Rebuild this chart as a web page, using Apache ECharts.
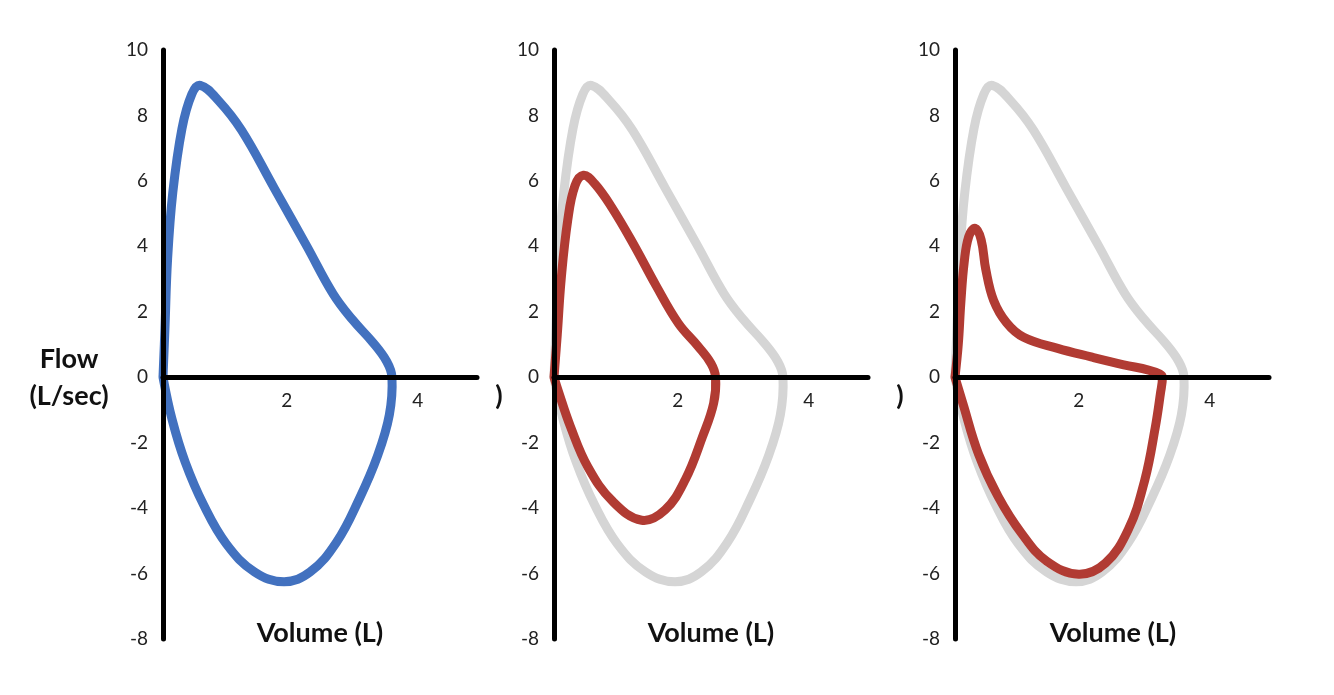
<!DOCTYPE html>
<html>
<head>
<meta charset="utf-8">
<script src="https://cdn.jsdelivr.net/npm/echarts@6/dist/echarts.min.js"></script>
<style>
html,body{margin:0;padding:0;background:#fff;}
#chart{width:1334px;height:695px;}
</style>
</head>
<body>
<div id="chart"></div>
<script>
// Flow (L/sec) vs Volume (L) loops
const yTicks = { min: -8, max: 10, interval: 2 };
const xTicks = { min: 0, max: 4.8, interval: 2 };

// Normal loop (panel 1 blue, grey reference in panels 2 & 3)
const normalLoop = [
  [0,0],[0.03,1.5],[0.07,3.6],[0.15,5.65],[0.29,7.6],[0.44,8.65],[0.57,8.92],
  [0.85,8.45],[1.2,7.55],[1.7,5.78],[2.2,4.0],[2.6,2.55],[2.9,1.75],[3.2,1.08],[3.42,0.48],[3.5,0],
  [3.46,-1.15],[3.28,-2.4],[3.0,-3.72],[2.65,-5.05],[2.25,-5.95],[1.85,-6.25],[1.4,-5.95],
  [0.97,-5.1],[0.62,-3.9],[0.34,-2.6],[0.14,-1.3],[0,0]
];

// Panel 2 red loop
const restrictiveLoop = [
  [0,0],[0.05,1.3],[0.11,3.0],[0.21,4.8],[0.32,5.85],[0.45,6.17],[0.62,5.92],[0.88,5.2],
  [1.22,4.05],[1.56,2.8],[1.9,1.65],[2.2,0.95],[2.4,0.42],[2.47,0],
  [2.44,-0.8],[2.27,-1.82],[2.01,-3.12],[1.7,-4.05],[1.34,-4.37],[0.9,-3.8],[0.52,-2.75],[0.25,-1.5],[0.07,-0.45],[0,0]
];

// Panel 3 red loop
const obstructiveLoop = [
  [0,0],[0.05,1.0],[0.09,2.3],[0.14,3.5],[0.21,4.3],[0.31,4.55],[0.4,4.2],[0.47,3.3],[0.59,2.35],
  [0.79,1.66],[1.05,1.22],[1.57,0.88],[2.08,0.62],[2.58,0.38],[2.96,0.22],[3.13,0.1],[3.17,0],
  [3.14,-0.5],[3.06,-1.55],[2.9,-3.15],[2.65,-4.65],[2.3,-5.68],[1.89,-6.02],[1.4,-5.62],[1.02,-4.78],
  [0.66,-3.65],[0.36,-2.35],[0.12,-0.8],[0,0]
];

const xAxisTitle = 'Volume (L)';
const yAxisTitle = 'Flow\n(L/sec)';

const BLUE = '#4271BF', RED = '#B13B33', GREY = '#D5D5D5';
const panelLefts = [163, 554, 955];
const FONT = 'Lato, "Open Sans", sans-serif';
const GRID_H = 589;
const zeroFromBottom = GRID_H * (0 - yTicks.min) / (yTicks.max - yTicks.min);

const grids = panelLefts.map(l => ({ left: l, top: 50, width: 314, height: GRID_H }));
const xAxes = panelLefts.map((l, i) => ({
  type: 'value', gridIndex: i, min: xTicks.min, max: xTicks.max, interval: xTicks.interval,
  position: 'bottom', offset: -zeroFromBottom, z: 10,
  axisLine: { onZero: false, lineStyle: { color: '#000', width: 5 } },
  axisTick: { show: false }, splitLine: { show: false },
  axisLabel: { margin: 14, fontSize: 19, color: '#222', fontFamily: FONT, padding: [0, 14, 0, 0],
    showMaxLabel: false, formatter: v => (v === 0 ? '' : String(v)) }
}));
const yAxes = panelLefts.map((l, i) => ({
  type: 'value', gridIndex: i, min: yTicks.min, max: yTicks.max, interval: yTicks.interval,
  z: 10,
  axisLine: { show: true, onZero: false, lineStyle: { color: '#000', width: 5 } },
  axisTick: { show: false }, splitLine: { show: false },
  axisLabel: { margin: 15, fontSize: 19, color: '#222', fontFamily: FONT }
}));

// Each loop is drawn as one smooth polyline through its data points, mapped by the axes' scales.
function loop(data, color, i, z) {
  return {
    type: 'custom', xAxisIndex: i, yAxisIndex: i, data: data, z: z, animation: false,
    encode: { x: 0, y: 1 },
    renderItem: function (params, api) {
      if (params.dataIndexInside !== 0) return null;
      const pts = [];
      for (let k = 0; k < params.dataInsideLength; k++) {
        pts.push(api.coord([api.value(0, k), api.value(1, k)]));
      }
      return {
        type: 'polyline',
        shape: { points: pts, smooth: 0.4 },
        style: { stroke: color, lineWidth: 9, fill: null, lineJoin: 'round', lineCap: 'round' }
      };
    }
  };
}

const series = [
  loop(normalLoop, BLUE, 0, 3),
  loop(normalLoop, GREY, 1, 2),
  loop(restrictiveLoop, RED, 1, 3),
  loop(normalLoop, GREY, 2, 2),
  loop(obstructiveLoop, RED, 2, 3)
];

const titleStyle = { fontSize: 27, fontWeight: 'bold', fill: '#111', fontFamily: FONT };
const graphic = [
  { type: 'text', style: Object.assign({ text: yAxisTitle, x: 69, y: 378, align: 'center', verticalAlign: 'middle', lineHeight: 37 }, titleStyle) },
  { type: 'text', style: Object.assign({ text: ')', x: 499, y: 396, align: 'center', verticalAlign: 'middle' }, titleStyle) },
  { type: 'text', style: Object.assign({ text: ')', x: 900, y: 396, align: 'center', verticalAlign: 'middle' }, titleStyle) }
];
[320, 711, 1113].forEach(cx => graphic.push({ type: 'text',
  style: Object.assign({ text: xAxisTitle, x: cx, y: 633, align: 'center', verticalAlign: 'middle' }, titleStyle) }));

const chart = echarts.init(document.getElementById('chart'));
chart.setOption({ animation: false, grid: grids, xAxis: xAxes, yAxis: yAxes, series: series, graphic: graphic });
</script>
</body>
</html>
